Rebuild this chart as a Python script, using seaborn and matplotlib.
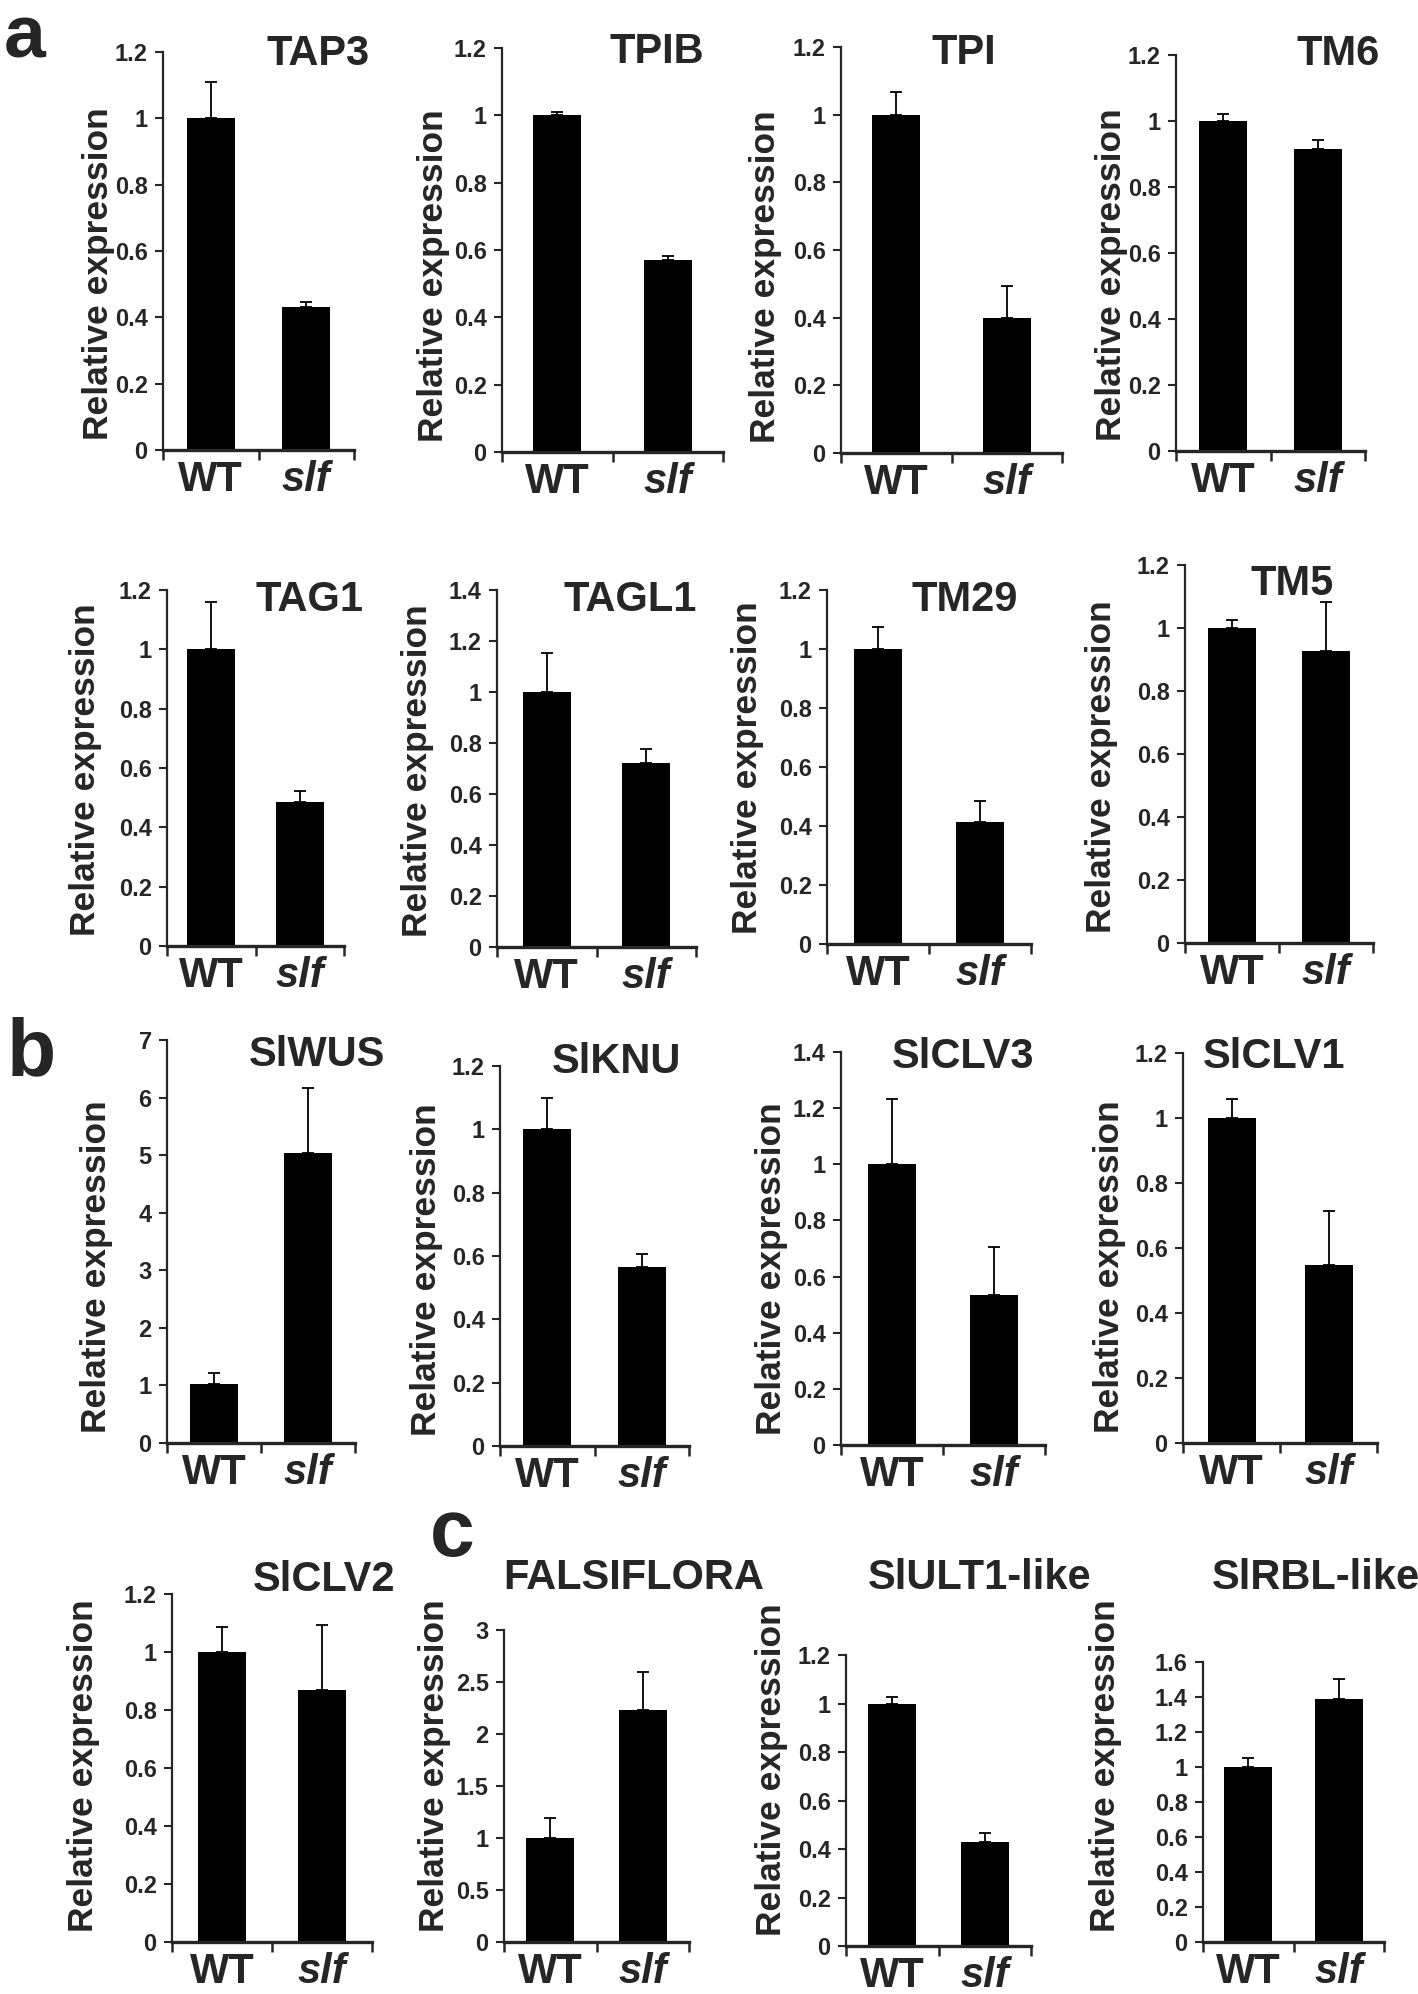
import numpy as np
import pandas as pd
import matplotlib
matplotlib.use('Agg')
import matplotlib.pyplot as plt
import seaborn as sns

# gene panels (WT is the reference = 1)
genes = ['TAP3', 'TPIB', 'TPI', 'TM6',
         'TAG1', 'TAGL1', 'TM29', 'TM5',
         'SlWUS', 'SlKNU', 'SlCLV3', 'SlCLV1',
         'SlCLV2', 'FALSIFLORA', 'SlULT1-like', 'SlRBL-like']
groups = ['WT', 'slf']
wt_mean = [1.0, 1.0, 1.0, 1.0,
           1.0, 1.0, 1.0, 1.0,
           1.02, 1.0, 1.0, 1.0,
           1.0, 1.0, 1.0, 1.0]
wt_err = [0.11, 0.01, 0.066, 0.021,
          0.16, 0.153, 0.075, 0.025,
          0.19, 0.10, 0.233, 0.057,
          0.086, 0.19, 0.027, 0.05]
slf_mean = [0.43, 0.571, 0.40, 0.914,
            0.487, 0.72, 0.415, 0.926,
            5.04, 0.565, 0.535, 0.547,
            0.868, 2.23, 0.427, 1.386]
slf_err = [0.015, 0.01, 0.093, 0.027,
           0.035, 0.055, 0.07, 0.157,
           1.13, 0.042, 0.171, 0.166,
           0.225, 0.37, 0.037, 0.115]
y_max = [1.2, 1.2, 1.2, 1.2,
         1.2, 1.4, 1.2, 1.2,
         7, 1.2, 1.4, 1.2,
         1.2, 3, 1.2, 1.6]
y_step = [0.2, 0.2, 0.2, 0.2,
          0.2, 0.2, 0.2, 0.2,
          1, 0.2, 0.2, 0.2,
          0.2, 0.5, 0.2, 0.2]

# layout in pixels of the 1418x1994 canvas: left, right, top tick, zero line
boxes = [(163, 354, 52, 450), (502, 723, 48, 452), (841, 1062, 47, 453), (1176, 1365, 55, 451),
         (167, 344, 590, 946), (497, 696, 590, 947), (827, 1031, 590, 944), (1185, 1373, 565, 943),
         (167, 355, 1040, 1443), (500, 689, 1066, 1446), (841, 1045, 1052, 1445), (1183, 1377, 1053, 1443),
         (172, 372, 1594, 1942), (504, 689, 1630, 1942), (846, 1031, 1655, 1946), (1203, 1384, 1662, 1942)]
title_xy = [(318, 54), (657, 52), (964, 53), (1338, 54),
            (309, 600), (630, 600), (965, 600), (1292, 584),
            (317, 1055), (617, 1062), (963, 1057), (1274, 1057),
            (324, 1580), (634, 1578), (980, 1578), (1316, 1578)]
ylabel_x = [99, 433, 765, 1111,
            86, 418, 748, 1101,
            97, 427, 771, 1110,
            84, 434, 771, 1106]

W, H = 1418, 1994
sns.set_style('ticks')
plt.rcParams['font.family'] = ['Liberation Sans', 'DejaVu Sans']

fig = plt.figure(figsize=(W / 100, H / 100), dpi=100)

for i, gene in enumerate(genes):
    left, right, top, zero = boxes[i]
    ax = fig.add_axes([left / W, 1 - zero / H, (right - left) / W, (zero - top) / H])
    df = pd.DataFrame({'group': groups, 'value': [wt_mean[i], slf_mean[i]]})
    bar_w = 48 / ((right - left) / 2)
    sns.barplot(data=df, x='group', y='value', color='black', saturation=1,
                width=bar_w, ax=ax, edgecolor='none')
    ax.errorbar([0, 1], df['value'], yerr=[[0, 0], [wt_err[i], slf_err[i]]],
                fmt='none', ecolor='black', elinewidth=1.3, capsize=4, capthick=1.3)
    ax.set_xlim(-0.5, 1.5)
    ax.set_ylim(0, y_max[i])
    ticks = np.round(np.arange(0, y_max[i] + y_step[i] / 2, y_step[i]), 2)
    ax.set_yticks(ticks)
    ax.set_yticklabels([f'{t:g}' for t in ticks], fontsize=17, fontweight='bold')
    ax.set_xticks([0, 1])
    ax.set_xticklabels(groups, fontsize=30, fontweight='bold')
    ax.get_xticklabels()[1].set_style('italic')
    ax.set_xticks([-0.5, 0.5, 1.5], minor=True)
    ax.tick_params(axis='x', which='major', length=0, pad=7)
    ax.tick_params(axis='x', which='minor', length=7, width=1.8, direction='out')
    ax.tick_params(axis='y', length=6, width=1.5, direction='out', pad=5)
    ax.set_xlabel('')
    ax.set_ylabel('')
    sns.despine(ax=ax)
    ax.spines['left'].set_linewidth(1.6)
    ax.spines['bottom'].set_linewidth(2.4)

    tx, ty = title_xy[i]
    fig.text(tx / W, 1 - ty / H, gene, fontsize=30, fontweight='bold', ha='center', va='center')
    fig.text(ylabel_x[i] / W, 1 - (zero - 176) / H, 'Relative expression', fontsize=25.5,
             fontweight='bold', rotation=90, ha='center', va='center')

# panel letters
fig.text(25 / W, 1 - 57 / H, 'a', fontsize=54, fontweight='bold', ha='center', va='baseline')
fig.text(31 / W, 1 - 1075 / H, 'b', fontsize=58, fontweight='bold', ha='center', va='baseline')
fig.text(452 / W, 1 - 1556 / H, 'c', fontsize=58, fontweight='bold', ha='center', va='baseline')

fig.savefig('out.png', dpi=100)
